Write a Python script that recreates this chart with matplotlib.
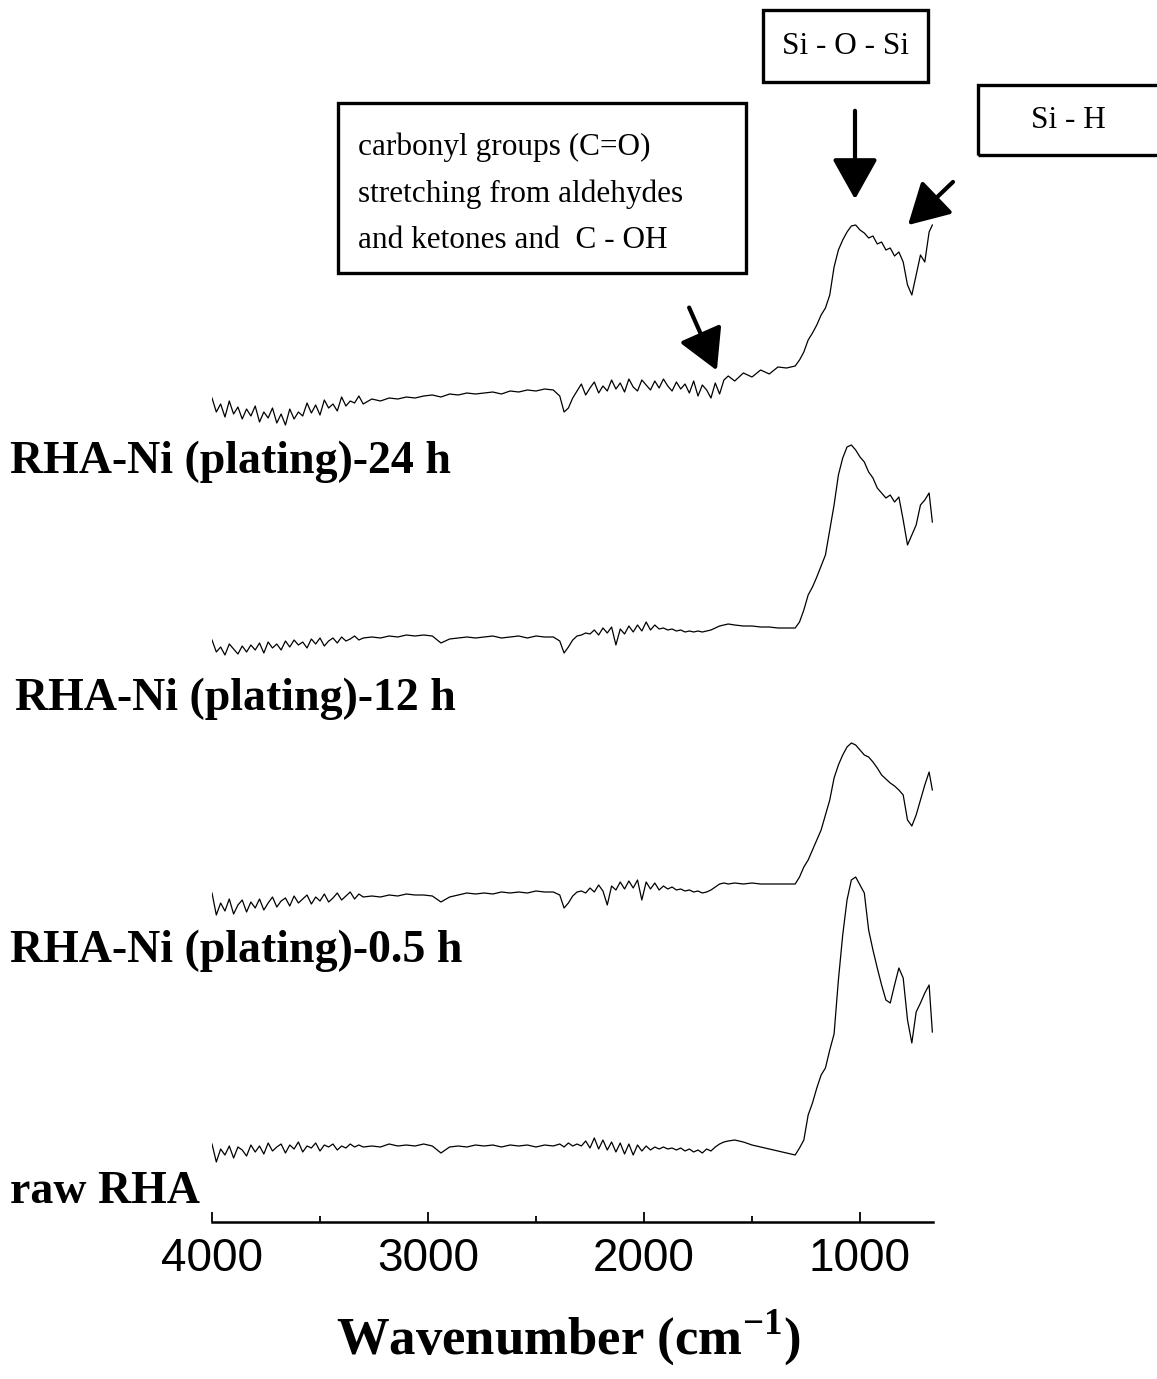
import numpy as np
import matplotlib
matplotlib.use('Agg')
import matplotlib.pyplot as plt
from matplotlib.patches import Rectangle, FancyArrowPatch

# common wavenumber grid (cm-1), high to low
wavenumber = (list(range(4000, 3299, -20)) + list(range(3260, 2459, -40))
              + [2420, 2390, 2370, 2350, 2330, 2310]
              + list(range(2290, 1609, -20)) + list(range(1580, 1339, -40))
              + list(range(1300, 679, -20)) + [665])

# transmittance (a.u.), each relative to its own baseline
t_24h = [12, -2, 6, -7, 9, -4, 3, -9, 1, -6, 4, -12, -2, -8, 2, -13, -4, -15,
         1, -9, -2, -6, 7, -3, 5, -5, 10, 2, 6, -1, 13, 4, 9, 7, 14, 6,
         11, 9, 12, 11, 13, 12, 14, 15, 13, 16, 15, 17, 16, 17, 18, 16, 19, 18, 20, 19, 21,
         20, 14, -2, 2, 12, 19,
         26, 15, 22, 28, 17, 24, 19, 30, 21, 27, 18, 31, 23, 19, 30, 25, 20, 29, 22, 31,
         24, 19, 28, 21, 26, 17, 29, 14, 25, 20, 12, 27, 16, 30, 34,
         29, 37, 33, 40, 36, 43, 42,
         44, 50, 58, 70, 77, 85, 95, 102, 115, 143, 160, 170, 178, 184, 185, 180,
         177, 172, 174, 166, 168, 160, 162, 154, 158, 148, 125, 115, 135, 155, 148, 178,
         185]

t_12h = [10, -2, 3, -5, 6, 1, -4, 4, -2, 5, 0, 7, -3, 8, 2, 6, 0, 9,
         3, 10, 5, 8, 2, 11, 6, 12, 4, 9, 12, 7, 13, 9, 11, 14, 10, 12,
         13, 12, 14, 13, 15, 14, 15, 14, 7, 11, 12, 13, 12, 13, 14, 12, 13, 14, 12, 14, 13,
         13, 9, -3, 3, 10, 14,
         15, 17, 16, 20, 15, 22, 17, 23, 5, 21, 16, 24, 18, 25, 19, 28, 20, 25, 21, 22,
         20, 21, 19, 20, 18, 19, 18, 19, 18, 19, 20, 22, 24, 25, 26,
         25, 24, 24, 23, 23, 22, 22,
         22, 28, 40, 55, 63, 73, 84, 95, 120, 145, 175, 192, 203, 205, 200, 193,
         188, 178, 172, 162, 157, 152, 155, 148, 153, 130, 105, 115, 125, 145, 150, 157,
         128]

t_05h = [12, -10, 2, -6, 6, -9, 0, 5, -7, 3, -3, 6, -5, 2, 8, -2, 4, 7,
         -1, 9, 2, 6, 10, 1, 8, 4, 11, 3, 7, 12, 5, 9, 13, 6, 11, 8,
         9, 8, 10, 9, 11, 10, 10, 9, 3, 8, 10, 12, 11, 12, 11, 13, 12, 13, 12, 14, 13,
         13, 10, -3, 2, 9, 13,
         14, 12, 17, 13, 20, 14, 0, 19, 15, 23, 16, 24, 17, 25, 5, 23, 16, 22, 15, 19,
         16, 18, 15, 16, 14, 15, 13, 14, 12, 13, 15, 18, 21, 22, 21,
         22, 21, 22, 21, 21, 21, 21,
         21, 28, 38, 45, 55, 65, 75, 90, 105, 127, 140, 150, 158, 162, 160, 155,
         150, 148, 143, 137, 130, 126, 122, 119, 115, 110, 85, 79, 90, 105, 120, 133,
         115]

t_raw = [6, -12, 1, -5, 4, -8, 3, 0, -6, 5, -2, 4, -4, 7, -1, 3, 6, -3,
         5, 1, 8, -2, 4, 2, 7, -1, 5, 3, 6, 0, 4, 2, 6, 3, 5, 3,
         4, 3, 6, 4, 5, 4, 6, 4, -3, 3, 4, 3, 5, 4, 5, 3, 5, 4, 5, 3, 5,
         4, 6, 3, 7, 4, 6,
         4, 9, 2, 12, 1, 10, 0, 8, -2, 7, -4, 6, -5, 5, -1, 4, 0, 3, 1, 3,
         1, 2, 0, 2, -1, 1, -2, 0, -3, 1, -1, 3, 6, 8, 9,
         10, 8, 5, 3, 1, -1, -3,
         -5, 2, 10, 35, 47, 62, 75, 82, 100, 116, 170, 215, 250, 270, 273, 265,
         257, 220, 200, 182, 165, 150, 147, 165, 182, 172, 130, 107, 138, 147, 157, 165,
         118]

series = [t_24h, t_12h, t_05h, t_raw]
labels = ['RHA-Ni (plating)-24 h', 'RHA-Ni (plating)-12 h',
          'RHA-Ni (plating)-0.5 h', 'raw RHA']
offsets = [812, 572, 317, 72]

W, H = 1157, 1379


def fpx(x, y):
    # pixel position (from top-left) -> figure fraction
    return x / W, 1 - y / H


plt.rcParams['mathtext.fontset'] = 'custom'
plt.rcParams['mathtext.rm'] = 'Liberation Serif:bold'
plt.rcParams['mathtext.bf'] = 'Liberation Serif:bold'

fig = plt.figure(figsize=(W / 100, H / 100), dpi=100)
ax = fig.add_axes([212 / W, (H - 1222) / H, (933 - 212) / W, 1222 / H])

for vals, off in zip(series, offsets):
    ax.plot(wavenumber, np.array(vals) + off, color='black', lw=0.9)

ax.set_xlim(4000, 662)
ax.set_ylim(0, 1222)
for s in ['top', 'right', 'left']:
    ax.spines[s].set_visible(False)
ax.spines['bottom'].set_linewidth(1.8)
ax.set_yticks([])
ax.set_xticks([4000, 3000, 2000, 1000])
ax.set_xticks([3500, 2500, 1500], minor=True)
ax.tick_params(axis='x', which='major', direction='in', length=7, width=1.3, pad=11,
               labelsize=33)
ax.tick_params(axis='x', which='minor', direction='in', length=4, width=1.3)
for lab in ax.get_xticklabels():
    lab.set_fontfamily('Liberation Sans')

fig.text(*fpx(568, 1338), r'Wavenumber (cm$^{-1}$)', ha='center', va='center',
         family='Liberation Serif', weight='bold', fontsize=38)

label_pos = [(10, 473), (15, 710), (10, 962), (10, 1203)]
for lab, (x, y) in zip(labels, label_pos):
    fig.text(*fpx(x, y), lab, ha='left', va='baseline', family='Liberation Serif',
             weight='bold', fontsize=33)

# annotation boxes
boxes = [(338, 103, 746, 273), (763, 10, 928, 82), (978, 85, 1160, 155)]
for x0, y0, x1, y1 in boxes:
    fig.patches.append(Rectangle(fpx(x0, y1), (x1 - x0) / W, (y1 - y0) / H,
                                 transform=fig.transFigure, fill=False,
                                 lw=2.4, edgecolor='black'))

fig.text(*fpx(358, 194), 'carbonyl groups (C=O)\nstretching from aldehydes\nand ketones and  C - OH',
         ha='left', va='center', family='Liberation Serif', fontsize=22.5, linespacing=1.78)
fig.text(*fpx(845, 47), 'Si - O - Si', ha='center', va='center',
         family='Liberation Serif', fontsize=22.5)
fig.text(*fpx(1068, 120), 'Si - H', ha='center', va='center',
         family='Liberation Serif', fontsize=22.5)

arrows = [((855, 108), (855, 202)), ((955, 180), (906, 227)), ((688, 305), (718, 373))]
for (xs, ys), (xe, ye) in arrows:
    fig.add_artist(FancyArrowPatch(
        fpx(xs, ys), fpx(xe, ye), transform=fig.transFigure,
        arrowstyle='-|>,head_length=0.5,head_width=0.28', mutation_scale=50,
        lw=3, color='black'))

fig.savefig('out.png', dpi=100)
